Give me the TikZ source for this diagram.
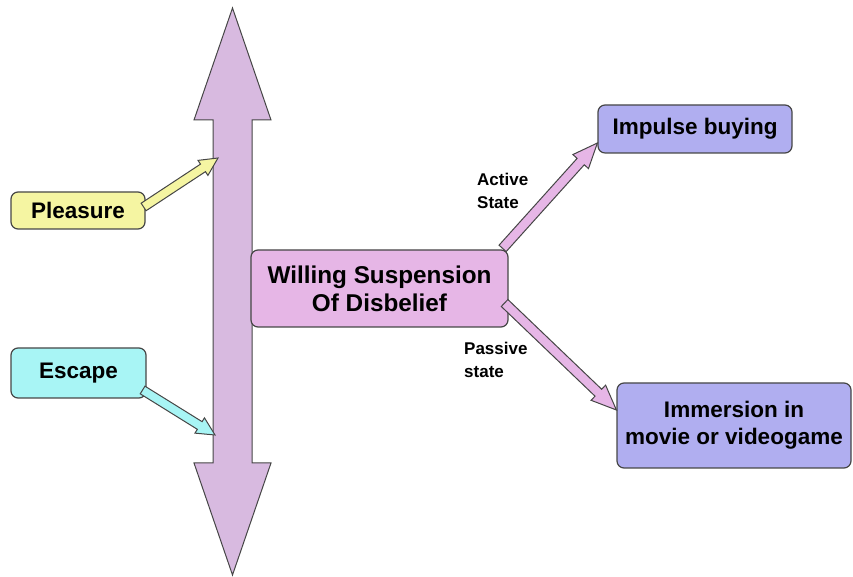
\documentclass[tikz,border=0pt]{standalone}
\usepackage{fontspec}
\setmainfont{Liberation Sans}
\usetikzlibrary{calc}
\definecolor{barfill}{RGB}{216,186,224}
\definecolor{pleafill}{RGB}{245,245,162}
\definecolor{escfill}{RGB}{168,245,245}
\definecolor{wsfill}{RGB}{230,182,230}
\definecolor{bluefill}{RGB}{176,174,240}
\definecolor{edgegray}{RGB}{70,70,70}
\newcommand\fatarrow[6]{%
  \coordinate (fh) at ($(#2)!#6!(#1)$);
  \draw[fatline, fill=#3] ($(#1)!#4!90:(#2)$) -- ($(fh)!#4!90:(#2)$) -- ($(fh)!#5!90:(#2)$) -- (#2)
     -- ($(fh)!#5!-90:(#2)$) -- ($(fh)!#4!-90:(#2)$) -- ($(#1)!#4!-90:(#2)$) -- cycle;
}
\begin{document}
\begin{tikzpicture}[x=1pt,y=1pt,
  box/.style={draw=edgegray, line width=1.2pt, rounded corners=7pt,
    font=\bfseries\fontsize{22.5}{27}\selectfont, align=center, inner sep=0pt},
  lbl/.style={font=\bfseries\fontsize{17}{23}\selectfont, align=left, inner sep=0pt},
  fatline/.style={draw=edgegray, line width=1pt, line join=miter}]
\useasboundingbox (0,0) rectangle (853,577);
% big double arrow
\draw[fatline, fill=barfill] (232.5,569) -- (271,457) -- (252,457) -- (252,114) -- (271,114)
  -- (232.5,2) -- (194,114) -- (213,114) -- (213,457) -- (194,457) -- cycle;
% boxes
\node[box, fill=pleafill, minimum width=134, minimum height=37] (plea) at (78,366.5) {Pleasure};
\node[box, fill=escfill, minimum width=135, minimum height=50] (esc) at (78.5,204) {Escape};
\node[box, fill=wsfill, minimum width=257, minimum height=77,
  font=\bfseries\fontsize{24.3}{28}\selectfont] (wsd) at (379.5,288.5) {Willing Suspension\\Of Disbelief};
\node[box, fill=bluefill, minimum width=194, minimum height=48] (imp) at (695,448) {Impulse buying};
\node[box, fill=bluefill, minimum width=234, minimum height=85] (imm) at (734,151.5) {Immersion in\\movie or videogame\\[-22pt]};
% labels
\node[lbl, anchor=west] (act) at (477,386) {Active\\State};
\node[lbl, anchor=west] (pas) at (464,217) {Passive\\state};
% connector ends
\coordinate (pleastart) at ($(plea.east)+(-2,3.5)$);
\coordinate (pleatip) at (218,419);
\coordinate (escstart) at ($(esc.east)+(-4,-17)$);
\coordinate (esctip) at (215,142);
\coordinate (actstart) at ($(wsd.north east)+(-6,1)$);
\coordinate (acttip) at ($(imp.west)+(0,-14)$);
\coordinate (passtart) at ($(wsd.east)+(-4,-14.5)$);
\coordinate (pastip) at ($(imm.west)+(0,15.5)$);
% arrows
\fatarrow{pleastart}{pleatip}{pleafill}{4.5pt}{9pt}{18pt}
\fatarrow{escstart}{esctip}{escfill}{4.5pt}{9pt}{18pt}
\fatarrow{actstart}{acttip}{wsfill}{4.8pt}{10.5pt}{25pt}
\fatarrow{passtart}{pastip}{wsfill}{4.8pt}{10.5pt}{25pt}
\end{tikzpicture}
\end{document}
